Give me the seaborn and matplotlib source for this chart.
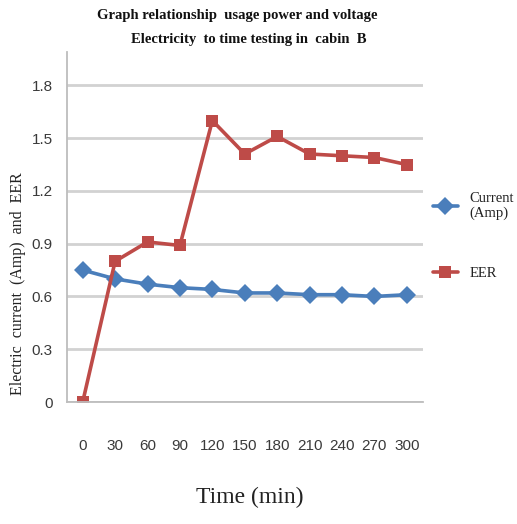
import matplotlib
matplotlib.use('Agg')
import matplotlib.pyplot as plt
import seaborn as sns
import pandas as pd
import numpy as np

# ---- data ----
time_labels = ['0', '30', '60', '90', '120', '150', '180', '210', '240', '270', '300']
current_amp = [0.75, 0.70, 0.67, 0.65, 0.64, 0.62, 0.62, 0.61, 0.61, 0.60, 0.61]
eer_values = [0.0, 0.80, 0.91, 0.89, 1.60, 1.41, 1.51, 1.41, 1.40, 1.39, 1.35]
series_names = ['Current\n(Amp)', 'EER']
y_ticks = [0, 0.3, 0.6, 0.9, 1.2, 1.5, 1.8]
y_tick_labels = ['0', '0.3', '0.6', '0.9', '1.2', '1.5', '1.8']

df = pd.DataFrame({
    'Time': time_labels + time_labels,
    'Value': current_amp + eer_values,
    'Series': [series_names[0]] * len(time_labels) + [series_names[1]] * len(time_labels),
})

sns.set_theme(style='white')
plt.rcParams['font.family'] = ['Liberation Serif', 'DejaVu Serif']

fig = plt.figure(figsize=(5.17, 5.24), dpi=100)
ax = fig.add_axes([66.5 / 517, 1 - 402 / 524, (423 - 66.5) / 517, (402 - 52) / 524])

palette = {series_names[0]: '#4a7ebb', series_names[1]: '#be4b48'}
markers = {series_names[0]: 'D', series_names[1]: 's'}
sns.lineplot(data=df, x='Time', y='Value', hue='Series', style='Series',
             markers=markers, dashes=False, palette=palette, sort=False,
             linewidth=2.6, markersize=9, markeredgewidth=0, ax=ax)

ax.set_xlim(-0.5, len(time_labels) - 0.5)
ax.set_ylim(0, 1.99)
ax.set_yticks(y_ticks)
ax.set_yticklabels(y_tick_labels)
ax.set_xticks(range(len(time_labels)))
ax.set_xticklabels(time_labels)
ax.set_xticks(np.arange(-0.5, len(time_labels)), minor=True)

for lab in ax.get_xticklabels() + ax.get_yticklabels():
    lab.set_fontfamily(['Liberation Sans', 'DejaVu Sans'])
    lab.set_fontsize(11)
    lab.set_color('#3a3a3a')

ax.tick_params(axis='x', which='major', length=0, pad=27)
ax.tick_params(axis='x', which='minor', length=5, width=1.2, color='#b8b8b8', direction='out')
ax.tick_params(axis='y', which='major', length=4, width=1.2, color='#b8b8b8', direction='out', pad=6)

ax.yaxis.grid(True, color='#d2d2d2', linewidth=2)
ax.set_axisbelow(True)
for s in ['top', 'right']:
    ax.spines[s].set_visible(False)
for s in ['left', 'bottom']:
    ax.spines[s].set_color('#bdbdbd')
    ax.spines[s].set_linewidth(1.3)

ax.set_xlabel('')
ax.set_ylabel('')

fig.text(18 / 517, 1 - 284 / 524, 'Electric  current  (Amp)  and  EER', rotation=90,
         ha='center', va='center', fontsize=11.5, color='#222222')
fig.text(250 / 517, 1 - 497 / 524, 'Time (min)', ha='center', va='center', fontsize=17, color='#222222')
fig.text(237 / 517, 1 - 16 / 524, 'Graph relationship  usage power and voltage', ha='center', va='center',
         fontsize=10.5, fontweight='bold', color='#111111')
fig.text(249 / 517, 1 - 40 / 524, 'Electricity  to time testing in  cabin  B', ha='center', va='center',
         fontsize=10.5, fontweight='bold', color='#111111')

leg = ax.legend(loc='center left', bbox_to_anchor=(433 / 517, 1 - 236 / 524),
                bbox_transform=fig.transFigure, frameon=False, labelspacing=3.2,
                handlelength=1.7, handletextpad=0.8, borderpad=0, borderaxespad=0,
                fontsize=10.5)
for t in leg.get_texts():
    t.set_color('#222222')

fig.savefig('out.png', dpi=100)
